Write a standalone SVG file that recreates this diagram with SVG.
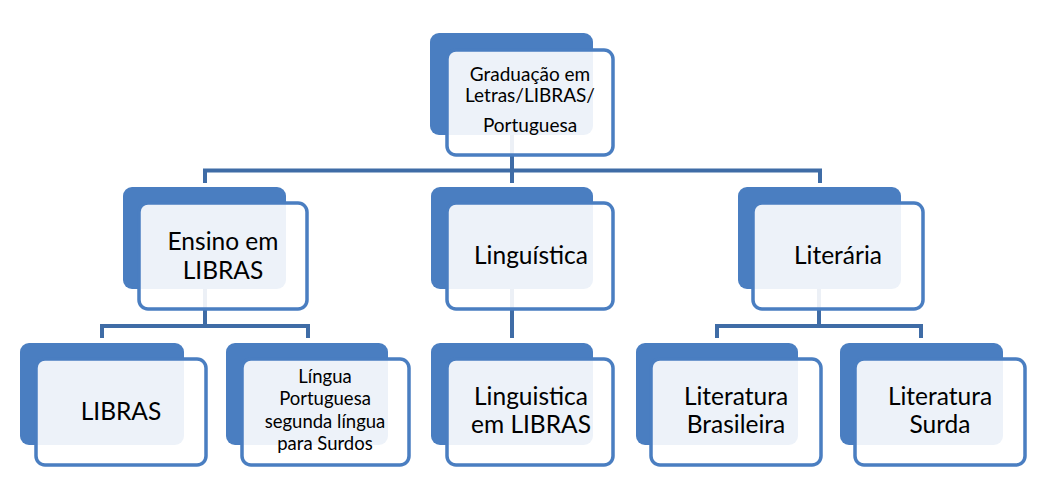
<svg xmlns="http://www.w3.org/2000/svg" width="1039" height="483" viewBox="0 0 1039 483">
<style>
.back{fill:#4A7EC1;}
.front{fill:#FFFFFF;fill-opacity:0.9;stroke:#4A7EC1;stroke-width:3.5;}
.conn{fill:none;stroke:#3F6CA6;stroke-width:4;}
text{font-family:Lato,"Open Sans","Liberation Sans",sans-serif;fill:#000;text-anchor:middle;}
.s22{font-size:24.5px;}
.s18{font-size:19px;}
.s16{font-size:18.5px;}
</style>
<rect width="1039" height="483" fill="#FFFFFF"/>
<g id="connectors">
<path class="conn" d="M512,134 V170.5 M205,183 V170.5 H820 V183 M512,170.5 V183"/>
<path class="conn" d="M205,289 V326 M102,338 V326 H308 V338"/>
<path class="conn" d="M512,289 V338"/>
<path class="conn" d="M819,289 V326 M717,338 V326 H921 V338"/>
</g>
<g id="n-top">
<rect class="back" x="430" y="33" width="163" height="102" rx="9"/>
<rect class="front" x="447" y="50" width="166" height="105" rx="9"/>
<text class="s18" x="530" y="81">Graduação em</text>
<text class="s18" x="530" y="102">Letras/LIBRAS/</text>
<text class="s18" x="530" y="132">Portuguesa</text>
</g>
<g id="n-ensino">
<rect class="back" x="123" y="187" width="163" height="102" rx="9"/>
<rect class="front" x="139" y="203" width="168" height="106" rx="9"/>
<text class="s22" x="223" y="250">Ensino em</text>
<text class="s22" x="223" y="279">LIBRAS</text>
</g>
<g id="n-linguistica">
<rect class="back" x="431" y="187" width="162" height="102" rx="9"/>
<rect class="front" x="447" y="203" width="166" height="106" rx="9"/>
<text class="s22" x="531" y="264">Linguística</text>
</g>
<g id="n-literaria">
<rect class="back" x="738" y="187" width="163" height="102" rx="9"/>
<rect class="front" x="753" y="203" width="170" height="106" rx="9"/>
<text class="s22" x="838" y="264">Literária</text>
</g>
<g id="n-libras">
<rect class="back" x="20" y="343" width="164" height="102" rx="9"/>
<rect class="front" x="36" y="359" width="170" height="106" rx="9"/>
<text class="s22" x="121" y="420">LIBRAS</text>
</g>
<g id="n-lingua-portuguesa">
<rect class="back" x="226" y="343" width="162" height="102" rx="9"/>
<rect class="front" x="242" y="359" width="167" height="106" rx="9"/>
<text class="s16" x="325" y="383">Língua</text>
<text class="s16" x="325" y="405">Portuguesa</text>
<text class="s16" x="325" y="428">segunda língua</text>
<text class="s16" x="325" y="450">para Surdos</text>
</g>
<g id="n-linguistica-libras">
<rect class="back" x="431" y="343" width="162" height="102" rx="9"/>
<rect class="front" x="447" y="359" width="166" height="106" rx="9"/>
<text class="s22" x="531" y="405">Linguistica</text>
<text class="s22" x="531" y="433">em LIBRAS</text>
</g>
<g id="n-lit-brasileira">
<rect class="back" x="636" y="343" width="162" height="102" rx="9"/>
<rect class="front" x="651" y="359" width="170" height="106" rx="9"/>
<text class="s22" x="736" y="405">Literatura</text>
<text class="s22" x="736" y="433">Brasileira</text>
</g>
<g id="n-lit-surda">
<rect class="back" x="840" y="343" width="163" height="102" rx="9"/>
<rect class="front" x="855" y="359" width="170" height="106" rx="9"/>
<text class="s22" x="940" y="405">Literatura</text>
<text class="s22" x="940" y="433">Surda</text>
</g>
</svg>
